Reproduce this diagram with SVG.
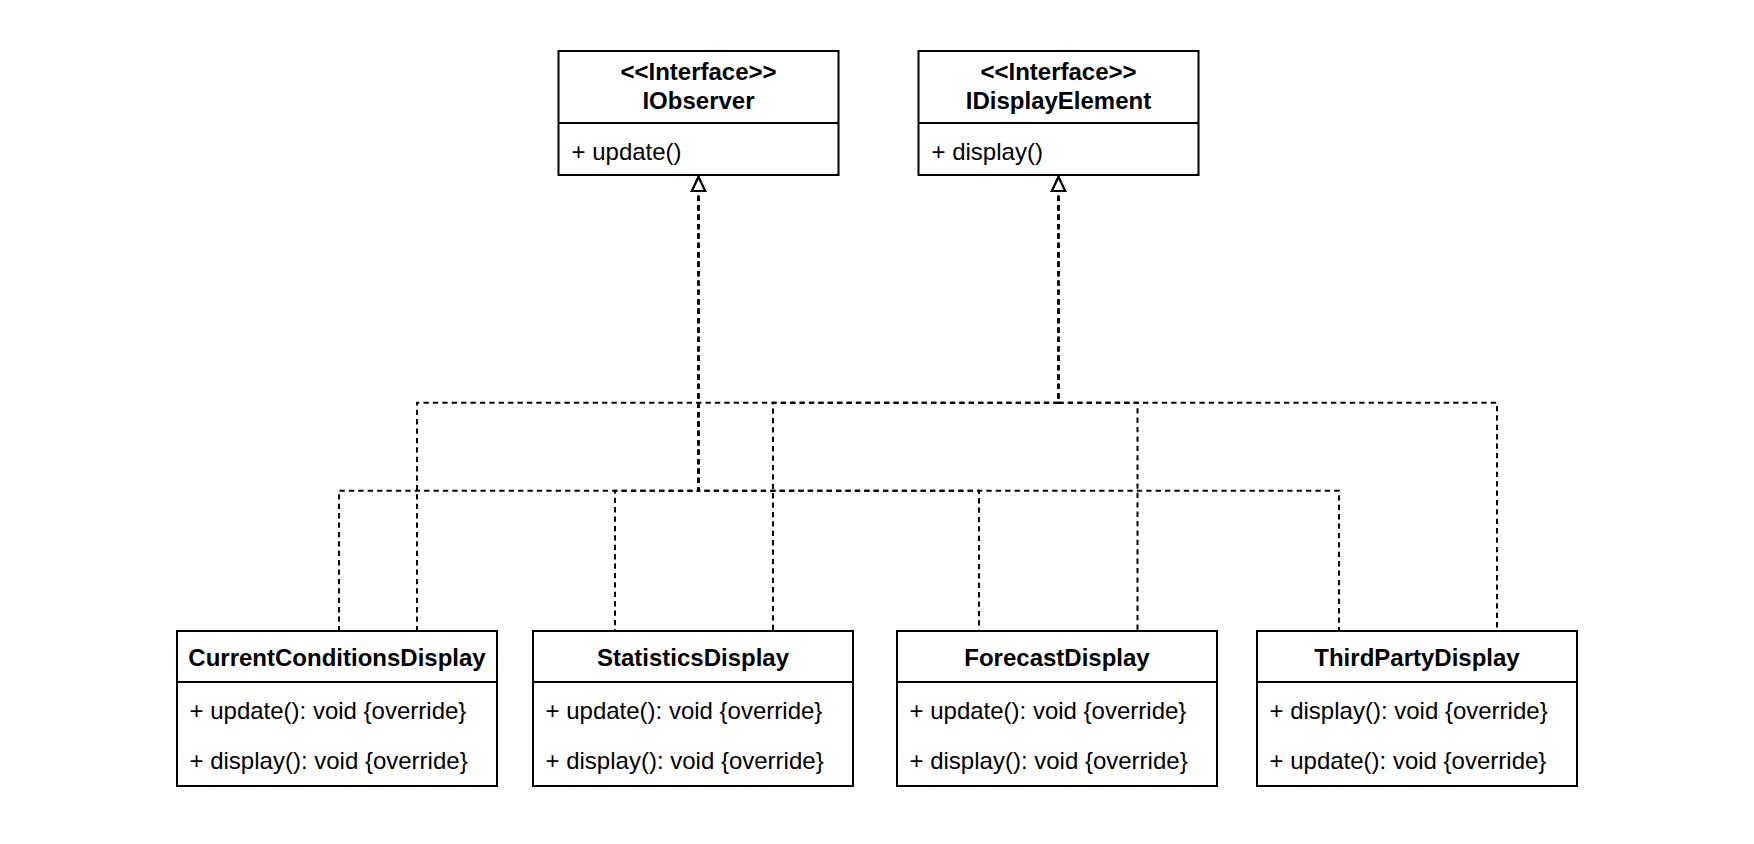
<svg xmlns="http://www.w3.org/2000/svg" width="1754" height="844" viewBox="0 0 1754 844">
<style>
.box{fill:#fff;stroke:#000;stroke-width:2}
.div{stroke:#000;stroke-width:2}
.t{font-family:"Liberation Sans",Arial,sans-serif;font-size:24px;fill:#000}
.b{font-weight:bold;text-anchor:middle}
.e{fill:none;stroke:#000;stroke-width:2;stroke-dasharray:5.3 4.1}
</style>
<defs>
<marker id="tri" markerUnits="userSpaceOnUse" markerWidth="20" markerHeight="20" viewBox="-2 -2 20 18" refX="14" refY="6.5" orient="auto-start-reverse">
<path d="M0,0 L14,6.5 L0,13 Z" fill="#fff" stroke="#000" stroke-width="2" stroke-dasharray="none"/>
</marker>
</defs>
<rect width="1754" height="844" fill="#fff"/>
<g id="connectors">
<path class="e" d="M698.5,177 V490.7 H339 V631" marker-start="url(#tri)"/>
<path class="e" d="M698.5,177 V490.7 H615 V631" marker-start="url(#tri)"/>
<path class="e" d="M698.5,177 V490.7 H979 V631" marker-start="url(#tri)"/>
<path class="e" d="M698.5,177 V490.7 H1339 V631" marker-start="url(#tri)"/>
<path class="e" d="M1058.5,177 V402.7 H417 V631" marker-start="url(#tri)"/>
<path class="e" d="M1058.5,177 V402.7 H773 V631" marker-start="url(#tri)"/>
<path class="e" d="M1058.5,177 V402.7 H1137.5 V631" marker-start="url(#tri)"/>
<path class="e" d="M1058.5,177 V402.7 H1497 V631" marker-start="url(#tri)"/>
</g>
<g id="IObserver">
<rect class="box" x="558.5" y="51" width="280" height="124"/>
<line class="div" x1="558.5" y1="123" x2="838.5" y2="123"/>
<text class="t b" x="698.5" y="80">&lt;&lt;Interface&gt;&gt;</text>
<text class="t b" x="698.5" y="109">IObserver</text>
<text class="t" x="571.5" y="159.5">+ update()</text>
</g>
<g id="IDisplayElement">
<rect class="box" x="918.5" y="51" width="280" height="124"/>
<line class="div" x1="918.5" y1="123" x2="1198.5" y2="123"/>
<text class="t b" x="1058.5" y="80">&lt;&lt;Interface&gt;&gt;</text>
<text class="t b" x="1058.5" y="109">IDisplayElement</text>
<text class="t" x="931.5" y="159.5">+ display()</text>
</g>
<g id="CurrentConditionsDisplay">
<rect class="box" x="177" y="631" width="320" height="155"/>
<line class="div" x1="177" y1="682" x2="497" y2="682"/>
<text class="t b" x="337" y="665.5">CurrentConditionsDisplay</text>
<text class="t" x="189.5" y="719">+ update(): void {override}</text>
<text class="t" x="189.5" y="769">+ display(): void {override}</text>
</g>
<g id="StatisticsDisplay">
<rect class="box" x="533" y="631" width="320" height="155"/>
<line class="div" x1="533" y1="682" x2="853" y2="682"/>
<text class="t b" x="693" y="665.5">StatisticsDisplay</text>
<text class="t" x="545.5" y="719">+ update(): void {override}</text>
<text class="t" x="545.5" y="769">+ display(): void {override}</text>
</g>
<g id="ForecastDisplay">
<rect class="box" x="897" y="631" width="320" height="155"/>
<line class="div" x1="897" y1="682" x2="1217" y2="682"/>
<text class="t b" x="1057" y="665.5">ForecastDisplay</text>
<text class="t" x="909.5" y="719">+ update(): void {override}</text>
<text class="t" x="909.5" y="769">+ display(): void {override}</text>
</g>
<g id="ThirdPartyDisplay">
<rect class="box" x="1257" y="631" width="320" height="155"/>
<line class="div" x1="1257" y1="682" x2="1577" y2="682"/>
<text class="t b" x="1417" y="665.5">ThirdPartyDisplay</text>
<text class="t" x="1269.5" y="719">+ display(): void {override}</text>
<text class="t" x="1269.5" y="769">+ update(): void {override}</text>
</g>
</svg>
